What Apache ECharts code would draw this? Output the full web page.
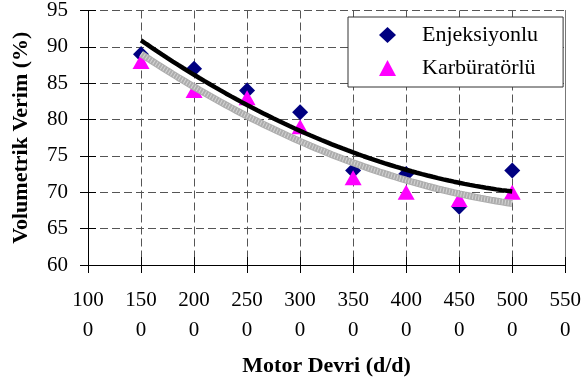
<!DOCTYPE html>
<html>
<head>
<meta charset="utf-8">
<script src="https://cdn.jsdelivr.net/npm/echarts@6/dist/echarts.min.js"></script>
<style>
  html, body { margin: 0; padding: 0; background: #fff; }
  #chart { width: 584px; height: 385px; }
</style>
</head>
<body>
<div id="chart"></div>
<script>
// motor devri (d/d)
var rpm = [1500, 2000, 2500, 3000, 3500, 4000, 4500, 5000];
// volumetrik verim (%)
var enjeksiyonlu = [89, 87, 84, 81, 73, 72.5, 68, 73];
var karburatorlu = [88, 84, 83, 79, 72, 70, 69, 70];

var serif = '"Liberation Serif", "Times New Roman", serif';

// 2. derece polinom egilim cizgisi (en kucuk kareler)
function polyFit2(xs, ys) {
  var n = xs.length, s = [0, 0, 0, 0, 0], t = [0, 0, 0];
  for (var i = 0; i < n; i++) {
    var x = xs[i] / 1000, p = 1;
    for (var k = 0; k < 5; k++) { s[k] += p; if (k < 3) t[k] += p * ys[i]; p *= x; }
  }
  var m = [[s[0], s[1], s[2], t[0]], [s[1], s[2], s[3], t[1]], [s[2], s[3], s[4], t[2]]];
  for (var c = 0; c < 3; c++) {
    for (var r = c + 1; r < 3; r++) {
      var f = m[r][c] / m[c][c];
      for (var j = c; j < 4; j++) m[r][j] -= f * m[c][j];
    }
  }
  var b = [0, 0, 0];
  for (var r2 = 2; r2 >= 0; r2--) {
    var v = m[r2][3];
    for (var j2 = r2 + 1; j2 < 3; j2++) v -= m[r2][j2] * b[j2];
    b[r2] = v / m[r2][r2];
  }
  return b;
}

function trendLine(xs, ys) {
  var b = polyFit2(xs, ys), out = [];
  for (var x = xs[0]; x <= xs[xs.length - 1]; x += 50) {
    var u = x / 1000;
    out.push([x, b[0] + b[1] * u + b[2] * u * u]);
  }
  return out;
}

function pairs(ys) {
  return rpm.map(function (x, i) { return [x, ys[i]]; });
}

var chart = echarts.init(document.getElementById('chart'), null, { renderer: 'canvas' });

var gridDash = { color: '#555', type: [8, 4], width: 1 };

var option = {
  animation: false,
  backgroundColor: '#fff',
  grid: { left: 88, right: 17, top: 10, bottom: 120, containLabel: false },
  legend: {
    orient: 'vertical',
    left: 348,
    top: 17,
    padding: [7, 25, 8, 31],
    itemGap: 11,
    itemWidth: 17,
    itemHeight: 16,
    backgroundColor: '#fff',
    borderColor: '#333',
    borderWidth: 1,
    textStyle: { fontFamily: serif, fontSize: 22, color: '#000', padding: [0, 0, 0, 21] },
    data: [
      { name: 'Enjeksiyonlu', icon: 'diamond' },
      { name: 'Karbüratörlü', icon: 'triangle' }
    ]
  },
  xAxis: [{
    type: 'value',
    min: 1000,
    max: 5500,
    interval: 500,
    name: 'Motor Devri (d/d)',
    nameLocation: 'middle',
    nameGap: 90,
    nameTextStyle: { fontFamily: serif, fontSize: 22, fontWeight: 'bold', color: '#000' },
    axisLine: { lineStyle: { color: '#000', width: 1 } },
    axisTick: { length: 8, lineStyle: { color: '#000' } },
    axisLabel: {
      margin: 20,
      fontFamily: serif, fontSize: 21, color: '#000', lineHeight: 30,
      formatter: function (v) { var s = String(v); return s.slice(0, 3) + '\n' + s.slice(3); }
    },
    splitLine: { show: true, lineStyle: gridDash }
  }, {
    type: 'value',
    position: 'bottom',
    offset: 0,
    min: 1000,
    max: 5500,
    interval: 500,
    axisLine: { show: false },
    axisTick: { inside: true, length: 8, lineStyle: { color: '#000' } },
    axisLabel: { show: false },
    splitLine: { show: false }
  }],
  yAxis: [{
    type: 'value',
    min: 60,
    max: 95,
    interval: 5,
    name: 'Volumetrik Verim (%)',
    nameLocation: 'middle',
    nameGap: 56,
    nameTextStyle: { fontFamily: serif, fontSize: 22, fontWeight: 'bold', color: '#000' },
    axisLine: { show: true, lineStyle: { color: '#000', width: 1 } },
    axisTick: { show: true, length: 8, lineStyle: { color: '#000' } },
    axisLabel: { margin: 20, fontFamily: serif, fontSize: 21, color: '#000' },
    splitLine: { show: true, lineStyle: gridDash }
  }, {
    type: 'value',
    position: 'left',
    offset: 0,
    min: 60,
    max: 95,
    interval: 5,
    axisLine: { show: false },
    axisTick: { show: true, inside: true, length: 8, lineStyle: { color: '#000' } },
    axisLabel: { show: false },
    splitLine: { show: false }
  }, {
    type: 'value',
    position: 'right',
    offset: 0,
    min: 60,
    max: 95,
    interval: 5,
    axisLine: { show: true, lineStyle: { color: '#777', width: 1 } },
    axisTick: { show: false },
    axisLabel: { show: false },
    splitLine: { show: false }
  }],
  series: [{
    name: 'Enjeksiyonlu',
    type: 'scatter',
    symbol: 'diamond',
    symbolSize: [16, 16],
    itemStyle: { color: '#000080', opacity: 1 },
    z: 2,
    data: pairs(enjeksiyonlu)
  }, {
    name: 'Karbüratörlü',
    type: 'scatter',
    symbol: 'triangle',
    symbolSize: [17, 15],
    itemStyle: { color: '#ff00ff', opacity: 1 },
    z: 3,
    data: pairs(karburatorlu)
  }, {
    name: 'trend-karb',
    type: 'line',
    showSymbol: false,
    silent: true,
    lineStyle: { color: '#adadad', width: 7 },
    z: 4,
    data: trendLine(rpm, karburatorlu)
  }, {
    name: 'trend-karb-doku',
    type: 'line',
    showSymbol: false,
    silent: true,
    lineStyle: { color: '#d4d4d4', width: 5, type: [1, 2] },
    z: 4,
    data: trendLine(rpm, karburatorlu)
  }, {
    name: 'trend-enj',
    type: 'line',
    showSymbol: false,
    silent: true,
    lineStyle: { color: '#000', width: 4.5 },
    z: 5,
    data: trendLine(rpm, enjeksiyonlu)
  }]
};

chart.setOption(option);
</script>
</body>
</html>
